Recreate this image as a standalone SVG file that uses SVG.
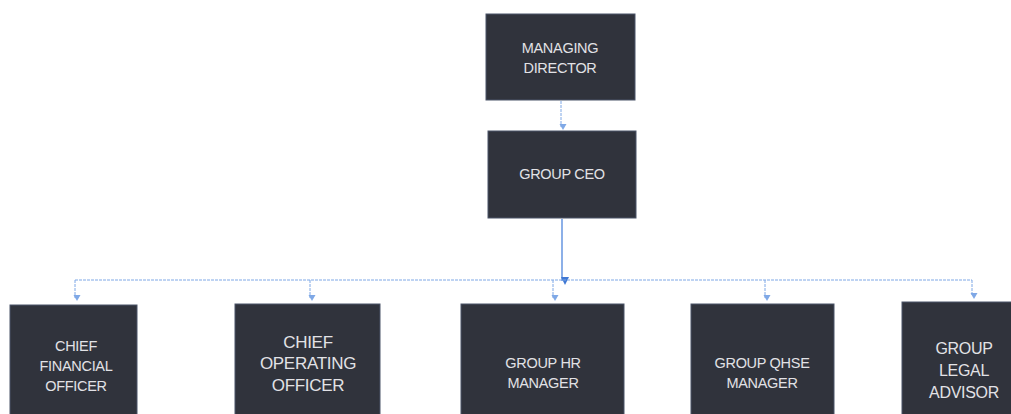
<svg xmlns="http://www.w3.org/2000/svg" width="1011" height="414" viewBox="0 0 1011 414">
<style>
.box{fill:#30333c;stroke:#4b5468;stroke-width:1}
.t{font-family:"Liberation Sans",Arial,sans-serif;font-size:14.5px;fill:#e2e2e6;text-anchor:middle;letter-spacing:-0.3px}
.tl{font-size:17px}
.tm{font-size:16px}
.c{fill:none;stroke:#7fa8e6;stroke-width:1;stroke-dasharray:3 1}
.cd{fill:none;stroke:#4f86dc;stroke-width:1.3}
</style>
<defs>
<marker id="ah" markerWidth="8" markerHeight="8" refX="4" refY="6" orient="auto-start-reverse" markerUnits="userSpaceOnUse" viewBox="0 0 8 8">
<path d="M0.5,1 L7.5,1 L4,7 Z" fill="#7fa8e6" transform="rotate(-90 4 4)"/>
</marker>
<marker id="ahd" markerWidth="10" markerHeight="10" refX="5" refY="8" orient="auto" markerUnits="userSpaceOnUse" viewBox="0 0 10 10">
<path d="M1,1 L9,1 L5,9 Z" fill="#3f78d4" transform="rotate(-90 5 5)"/>
</marker>
</defs>
<rect width="1011" height="414" fill="#ffffff"/>
<g id="connectors">
<line class="c" x1="561" y1="101" x2="561" y2="127" marker-end="url(#ah)"/>
<line class="cd" x1="562" y1="219" x2="562" y2="281" marker-end="url(#ahd)"/>
<line class="c" x1="75" y1="280" x2="972" y2="280"/>
<line class="c" x1="75" y1="280" x2="75" y2="298" marker-end="url(#ah)"/>
<line class="c" x1="310" y1="280" x2="310" y2="298" marker-end="url(#ah)"/>
<line class="c" x1="553" y1="280" x2="553" y2="298" marker-end="url(#ah)"/>
<line class="c" x1="765" y1="280" x2="765" y2="298" marker-end="url(#ah)"/>
<line class="c" x1="972" y1="280" x2="972" y2="296" marker-end="url(#ah)"/>
</g>
<g id="md">
<rect class="box" x="486" y="14" width="149" height="86"/>
<text class="t" x="560" y="53">MANAGING</text>
<text class="t" x="560" y="73">DIRECTOR</text>
</g>
<g id="ceo">
<rect class="box" x="488" y="131" width="148" height="87"/>
<text class="t" x="562" y="179">GROUP CEO</text>
</g>
<g id="cfo">
<rect class="box" x="10" y="305" width="127" height="115"/>
<text class="t" x="76" y="351">CHIEF</text>
<text class="t" x="76" y="371">FINANCIAL</text>
<text class="t" x="76" y="391">OFFICER</text>
</g>
<g id="coo">
<rect class="box" x="235" y="304" width="145" height="116"/>
<text class="t tl" x="308" y="348">CHIEF</text>
<text class="t tl" x="308" y="369">OPERATING</text>
<text class="t tl" x="308" y="391">OFFICER</text>
</g>
<g id="hr">
<rect class="box" x="461" y="304" width="163" height="116"/>
<text class="t" x="543" y="368">GROUP HR</text>
<text class="t" x="543" y="388">MANAGER</text>
</g>
<g id="qhse">
<rect class="box" x="691" y="304" width="143" height="116"/>
<text class="t" x="762" y="368">GROUP QHSE</text>
<text class="t" x="762" y="388">MANAGER</text>
</g>
<g id="legal">
<rect class="box" x="902" y="302" width="115" height="118"/>
<text class="t tm" x="964" y="354">GROUP</text>
<text class="t tm" x="964" y="376">LEGAL</text>
<text class="t tm" x="964" y="398">ADVISOR</text>
</g>
</svg>
